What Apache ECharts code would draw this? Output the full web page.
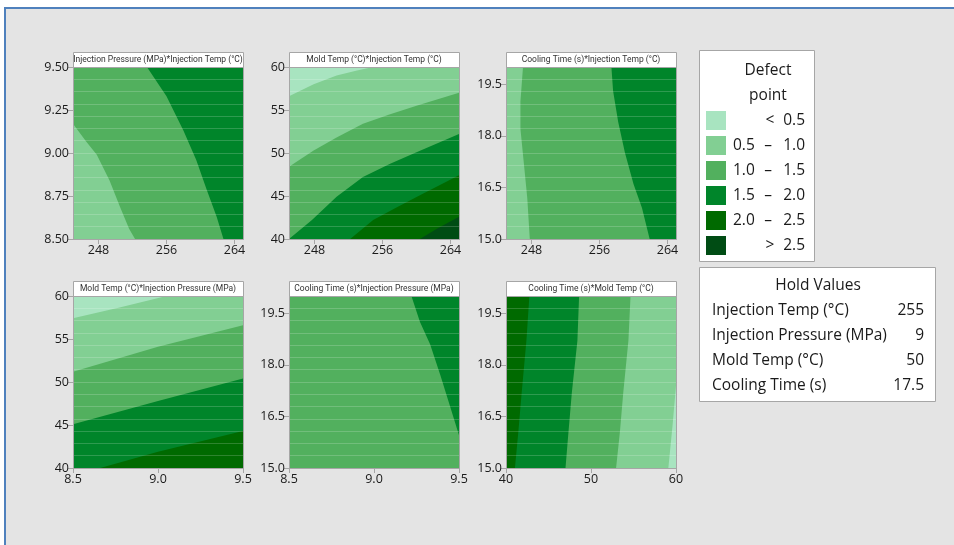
<!DOCTYPE html>
<html lang="en">
<head>
<meta charset="UTF-8">
<title>Contour Plots of Defect point</title>
<script src="https://cdn.jsdelivr.net/npm/echarts@6/dist/echarts.min.js"></script>
<style>
  html, body { margin: 0; padding: 0; background: #fff; }
  #frame { position: absolute; left: 4px; top: 7px; width: 948px; height: 536px; background: #e4e4e4;
           border-top: 2px solid #4f81bd; border-left: 2px solid #4f81bd; }
  #main { position: absolute; left: 0; top: 0; width: 954px; height: 545px; }
</style>
</head>
<body>
<div id="frame"></div>
<div id="main"></div>
<script>
// contour levels (legend)
const levelColors = ['#a8e4c0', '#82cf93', '#52b05e', '#00852a', '#006a00', '#004c14'];
const levelFrom = ['<', '0.5', '1.0', '1.5', '2.0', '>'];
const levelTo = ['0.5', '1.0', '1.5', '2.0', '2.5', '2.5'];

// hold values
const holdNames = ['Injection Temp (°C)', 'Injection Pressure (MPa)', 'Mold Temp (°C)', 'Cooling Time (s)'];
const holdValues = ['255', '9', '50', '17.5'];

// axis ranges and tick labels
const tempRange = [245, 265], tempTicks = [248, 256, 264];
const pressRange = [8.5, 9.5], pressTicks = [8.5, 9.0, 9.5], pressTicksY = [8.5, 8.75, 9.0, 9.25, 9.5];
const moldRange = [40, 60], moldTicks = [40, 45, 50, 55, 60], moldTicksX = [40, 50, 60];
const coolRange = [15, 20], coolTicks = [15, 16.5, 18, 19.5];

// contour lines, [x, y] in data units
// 1: Injection Pressure * Injection Temp
const p1c10 = [[245, 9.17], [246.5, 9.07], [247.8, 8.99], [249.3, 8.84], [250.5, 8.69], [251.6, 8.56], [252.3, 8.5]];
const p1c15 = [[253.7, 9.5], [256.0, 9.33], [258.0, 9.13], [259.5, 8.96], [260.7, 8.79], [261.9, 8.63], [262.7, 8.5]];
// 2: Mold Temp * Injection Temp
const p2c05 = [[245, 56.6], [247.9, 58.0], [250.6, 59.0], [253.0, 59.6], [254.9, 60]];
const p2c10 = [[245, 48.4], [247.9, 50.3], [250.6, 51.8], [253.7, 53.4], [256.9, 54.5], [260, 55.5], [265, 57.0]];
const p2c15 = [[245, 40], [247.7, 42.2], [250.6, 44.9], [253.7, 47.2], [256.9, 48.75], [260, 50.1], [265, 52.2]];
const p2c20 = [[252.2, 40], [254.9, 42.2], [257.7, 43.7], [260.8, 45.3], [265, 47.4]];
const p2c25 = [[260.4, 40], [262.4, 41.2], [265, 42.6]];
// 3: Cooling Time * Injection Temp
const p3c10 = [[247.0, 20], [246.7, 19.0], [246.7, 18.2], [247.1, 17.2], [247.5, 16.2], [247.8, 15]];
const p3c15 = [[257.4, 20], [257.6, 19.3], [258.2, 18.4], [259.0, 17.5], [260.0, 16.6], [261.0, 15.9], [261.9, 15]];
// 4: Mold Temp * Injection Pressure
const p4c05 = [[8.5, 57.4], [8.78, 58.7], [9.05, 60]];
const p4c10 = [[8.5, 51.2], [9.0, 54.1], [9.5, 56.6]];
const p4c15 = [[8.5, 45.1], [9.0, 47.8], [9.5, 50.4]];
const p4c20 = [[8.66, 40], [9.0, 41.9], [9.5, 44.3]];
// 5: Cooling Time * Injection Pressure
const p5c15 = [[9.22, 20], [9.27, 19.25], [9.33, 18.6], [9.39, 17.7], [9.45, 16.75], [9.5, 15.95]];
// 6: Cooling Time * Mold Temp
const p6c05 = [[60, 17.4], [59.6, 16.25], [59.1, 15]];
const p6c10 = [[54.65, 20], [54.4, 18.7], [53.8, 17.2], [53.4, 16.05], [52.95, 15]];
const p6c15 = [[48.6, 20], [48.4, 18.7], [47.75, 17.2], [47.35, 16.05], [47.0, 15]];
const p6c20 = [[42.75, 20], [42.4, 18.7], [41.85, 17.2], [41.45, 16.05], [41.05, 15]];

// each region: contour + closing corners (t/b, l/r) and its level
const panels = [
  { title: 'Injection Pressure (MPa)*Injection Temp (°C)', x: tempRange, xt: tempTicks, xd: 0,
    y: pressRange, yt: pressTicksY, yd: 2, base: 2,
    regions: [[p1c10, ['bl'], 1], [p1c15, ['br', 'tr'], 3]] },
  { title: 'Mold Temp (°C)*Injection Temp (°C)', x: tempRange, xt: tempTicks, xd: 0,
    y: moldRange, yt: moldTicks, yd: 0, base: 1,
    regions: [[p2c05, ['tl'], 0], [p2c10, ['br', 'bl'], 2], [p2c15, ['br'], 3], [p2c20, ['br'], 4], [p2c25, ['br'], 5]] },
  { title: 'Cooling Time (s)*Injection Temp (°C)', x: tempRange, xt: tempTicks, xd: 0,
    y: coolRange, yt: coolTicks, yd: 1, base: 2,
    regions: [[p3c10, ['bl', 'tl'], 1], [p3c15, ['br', 'tr'], 3]] },
  { title: 'Mold Temp (°C)*Injection Pressure (MPa)', x: pressRange, xt: pressTicks, xd: 1,
    y: moldRange, yt: moldTicks, yd: 0, base: 1,
    regions: [[p4c05, ['tl'], 0], [p4c10, ['br', 'bl'], 2], [p4c15, ['br', 'bl'], 3], [p4c20, ['br'], 4]] },
  { title: 'Cooling Time (s)*Injection Pressure (MPa)', x: pressRange, xt: pressTicks, xd: 1,
    y: coolRange, yt: coolTicks, yd: 1, base: 2,
    regions: [[p5c15, ['tr'], 3]] },
  { title: 'Cooling Time (s)*Mold Temp (°C)', x: moldRange, xt: moldTicksX, xd: 0,
    y: coolRange, yt: coolTicks, yd: 1, base: 1,
    regions: [[p6c10, ['bl', 'tl'], 2], [p6c15, ['bl', 'tl'], 3], [p6c20, ['bl', 'tl'], 4], [p6c05, ['br'], 0]] }
];

const colLeft = [73, 289, 506], rowTop = [67, 296], plotW = 170, plotH = 172;
const meshRows = 14; // faint row seams of the contour mesh
const font = 'Open Sans';
const axisGray = '#a6a6a6';

panels.forEach(function (p, i) {
  p.left = colLeft[i % 3];
  p.top = rowTop[Math.floor(i / 3)];
  const corner = function (c) {
    return [c[1] === 'l' ? p.x[0] : p.x[1], c[0] === 'b' ? p.y[0] : p.y[1]];
  };
  p.layers = [{ lvl: p.base, pts: ['bl', 'br', 'tr', 'tl'].map(corner) }];
  p.regions.forEach(function (r) {
    p.layers.push({ lvl: r[2], pts: r[0].concat(r[1].map(corner)) });
  });
});

const graphic = [];
panels.forEach(function (p) {
  graphic.push({ type: 'rect', z: 50, silent: true,
    shape: { x: p.left + 0.5, y: p.top - 15 + 0.5, width: plotW, height: 15 },
    style: { fill: '#fff', stroke: axisGray, lineWidth: 1 } });
  graphic.push({ type: 'text', z: 51, silent: true,
    style: { text: p.title, x: p.left + plotW / 2, y: p.top - 7, textAlign: 'center', align: 'center',
      textVerticalAlign: 'middle', verticalAlign: 'middle', fill: '#333', fontSize: 8.5, fontFamily: 'Roboto' } });
  graphic.push({ type: 'rect', z: 50, silent: true,
    shape: { x: p.left + 0.5, y: p.top + 0.5, width: plotW, height: plotH },
    style: { fill: null, stroke: axisGray, lineWidth: 1 } });
});

// legend box
graphic.push({ type: 'rect', silent: true, shape: { x: 699.5, y: 50.5, width: 115, height: 211 },
  style: { fill: '#fff', stroke: '#a6a6a6', lineWidth: 1 } });
['Defect', 'point'].forEach(function (t, k) {
  graphic.push({ type: 'text', silent: true, z: 2,
    style: { text: t, x: 768, y: 71 + k * 25, textAlign: 'center', align: 'center', textVerticalAlign: 'middle',
      verticalAlign: 'middle', fill: '#1a1a1a', fontSize: 15.5, fontFamily: font } });
});
levelColors.forEach(function (c, k) {
  const cy = 120.5 + k * 25;
  graphic.push({ type: 'rect', silent: true, z: 2, shape: { x: 706, y: cy - 9.5, width: 20, height: 19 }, style: { fill: c } });
  const txt = function (s, x, al) {
    graphic.push({ type: 'text', silent: true, z: 2,
      style: { text: s, x: x, y: cy, textAlign: al, align: al, textVerticalAlign: 'middle', verticalAlign: 'middle',
        fill: '#1a1a1a', fontSize: 15.5, fontFamily: font } });
  };
  if (levelFrom[k] === '<' || levelFrom[k] === '>') {
    txt(levelFrom[k], 770, 'center');
  } else {
    txt(levelFrom[k], 733, 'left');
    txt('–', 768, 'center');
  }
  txt(levelTo[k], 805, 'right');
});

// hold values box
graphic.push({ type: 'rect', silent: true, shape: { x: 699.5, y: 267.5, width: 236, height: 134 },
  style: { fill: '#fff', stroke: '#a6a6a6', lineWidth: 1 } });
graphic.push({ type: 'text', silent: true, z: 2,
  style: { text: 'Hold Values', x: 818, y: 286, textAlign: 'center', align: 'center', textVerticalAlign: 'middle',
    verticalAlign: 'middle', fill: '#1a1a1a', fontSize: 15.5, fontFamily: font } });
holdNames.forEach(function (n, k) {
  const cy = 311 + k * 25;
  graphic.push({ type: 'text', silent: true, z: 2,
    style: { text: n, x: 712, y: cy, textAlign: 'left', align: 'left', textVerticalAlign: 'middle',
      verticalAlign: 'middle', fill: '#1a1a1a', fontSize: 15.5, fontFamily: font } });
  graphic.push({ type: 'text', silent: true, z: 2,
    style: { text: holdValues[k], x: 924, y: cy, textAlign: 'right', align: 'right', textVerticalAlign: 'middle',
      verticalAlign: 'middle', fill: '#1a1a1a', fontSize: 15.5, fontFamily: font } });
});

const yAxes = panels.map(function (p, i) {
  return {
    type: 'value', gridIndex: i, min: p.y[0], max: p.y[1], z: 5,
    axisLine: { show: true, onZero: false, lineStyle: { color: axisGray } },
    axisTick: { show: true, customValues: p.yt, length: 5, lineStyle: { color: axisGray } },
    axisLabel: { customValues: p.yt, margin: 4, color: '#1a1a1a', fontSize: 12.5, fontFamily: font,
      formatter: function (v) { return Number(v).toFixed(p.yd); } },
    splitLine: { show: false }
  };
});
// hidden axes only for the mesh seams
panels.forEach(function (p, i) {
  yAxes.push({
    type: 'value', gridIndex: i, min: p.y[0], max: p.y[1], z: 4, position: 'right',
    interval: (p.y[1] - p.y[0]) / meshRows,
    axisLine: { show: false }, axisTick: { show: false }, axisLabel: { show: false },
    splitLine: { show: true, lineStyle: { color: 'rgba(255,255,255,0.18)', width: 1 } }
  });
});

const chart = echarts.init(document.getElementById('main'), null, { renderer: 'canvas' });
chart.setOption({
  backgroundColor: 'transparent',
  animation: false,
  grid: panels.map(function (p) {
    return { left: p.left, top: p.top, width: plotW, height: plotH, containLabel: false };
  }),
  xAxis: panels.map(function (p, i) {
    return {
      type: 'value', gridIndex: i, min: p.x[0], max: p.x[1], z: 5,
      axisLine: { show: true, onZero: false, lineStyle: { color: axisGray } },
      axisTick: { show: true, customValues: p.xt, length: 5, lineStyle: { color: axisGray } },
      axisLabel: { customValues: p.xt, margin: 5, color: '#1a1a1a', fontSize: 12.5, fontFamily: font,
        formatter: function (v) { return Number(v).toFixed(p.xd); } },
      splitLine: { show: false }
    };
  }),
  yAxis: yAxes,
  series: panels.map(function (p, i) {
    return {
      type: 'custom', xAxisIndex: i, yAxisIndex: i, clip: true, silent: true, z: 2,
      data: p.layers.map(function (l) { return l.pts[0]; }),
      renderItem: function (params, api) {
        const l = p.layers[params.dataIndex];
        return {
          type: 'polygon', z2: params.dataIndex,
          shape: { points: l.pts.map(function (pt) { return api.coord(pt); }) },
          style: { fill: levelColors[l.lvl], stroke: null }
        };
      }
    };
  }),
  graphic: graphic
});
</script>
</body>
</html>
